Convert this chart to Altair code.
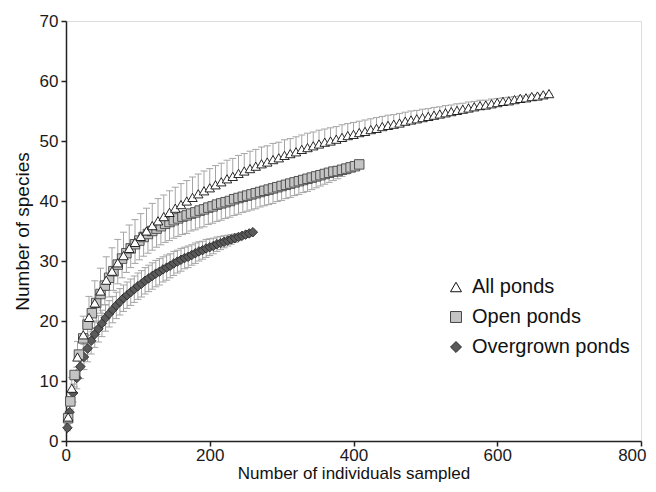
import altair as alt
import pandas as pd

series_names = ["All ponds", "Open ponds", "Overgrown ponds"]

all_x = [3, 8, 16, 24, 32, 40, 48, 56, 64, 72, 80, 88, 96, 104, 112, 120, 128, 136, 144, 152,
         160, 168, 176, 184, 192, 200, 208, 216, 224, 232, 240, 248, 256, 264, 272, 280, 288, 296,
         304, 312, 320, 328, 336, 344, 352, 360, 368, 376, 384, 392, 400, 408, 416, 424, 432, 440,
         448, 456, 464, 472, 480, 488, 496, 504, 512, 520, 528, 536, 544, 552, 560, 568, 576, 584,
         592, 600, 608, 616, 624, 632, 640, 648, 656, 664, 672]
all_y = [4.0, 8.8, 14.0, 17.7, 20.6, 23.0, 25.0, 26.8, 28.3, 29.7, 30.9, 32.1, 33.1, 34.1, 35.0,
         35.9, 36.7, 37.4, 38.1, 38.8, 39.4, 40.0, 40.6, 41.2, 41.7, 42.2, 42.7, 43.2, 43.7, 44.1,
         44.6, 45.0, 45.4, 45.8, 46.2, 46.5, 46.9, 47.2, 47.6, 47.9, 48.2, 48.6, 48.9, 49.2, 49.5,
         49.8, 50.0, 50.3, 50.6, 50.9, 51.1, 51.4, 51.6, 51.9, 52.1, 52.4, 52.6, 52.8, 53.0, 53.3,
         53.5, 53.7, 53.9, 54.1, 54.3, 54.5, 54.7, 54.9, 55.1, 55.3, 55.5, 55.7, 55.9, 56.0, 56.2,
         56.4, 56.6, 56.7, 56.9, 57.1, 57.2, 57.4, 57.5, 57.7, 57.9]
all_err = [1.0, 1.8, 2.6, 3.1, 3.5, 3.7, 3.8, 3.9, 3.9, 3.9, 3.9, 3.9, 3.8, 3.8, 3.8, 3.7, 3.7,
           3.6, 3.6, 3.5, 3.5, 3.4, 3.4, 3.3, 3.3, 3.2, 3.2, 3.1, 3.1, 3.0, 3.0, 2.9, 2.9, 2.8,
           2.8, 2.7, 2.7, 2.6, 2.6, 2.5, 2.5, 2.4, 2.4, 2.3, 2.3, 2.2, 2.2, 2.1, 2.1, 2.0, 2.0,
           1.9, 1.9, 1.8, 1.8, 1.7, 1.7, 1.6, 1.6, 1.5, 1.5, 1.4, 1.4, 1.3, 1.3, 1.2, 1.2, 1.1,
           1.1, 1.0, 1.0, 0.9, 0.9, 0.8, 0.8, 0.7, 0.6, 0.6, 0.5, 0.4, 0.3, 0.3, 0.2, 0.1, 0.0]

open_x = [3, 6, 12, 18, 24, 30, 36, 42, 48, 54, 60, 66, 72, 78, 84, 90, 96, 102, 108, 114, 120,
          126, 132, 138, 144, 150, 156, 162, 168, 174, 180, 186, 192, 198, 204, 210, 216, 222,
          228, 234, 240, 246, 252, 258, 264, 270, 276, 282, 288, 294, 300, 306, 312, 318, 324,
          330, 336, 342, 348, 354, 360, 366, 372, 378, 384, 390, 396, 402, 408]
open_y = [3.8, 6.6, 11.0, 14.4, 17.1, 19.4, 21.3, 23.0, 24.5, 25.9, 27.2, 28.3, 29.4, 30.4, 31.3,
          32.1, 32.8, 33.4, 34.0, 34.5, 35.0, 35.4, 35.8, 36.2, 36.5, 36.8, 37.1, 37.4, 37.6,
          37.9, 38.1, 38.4, 38.6, 38.9, 39.1, 39.4, 39.6, 39.8, 40.0, 40.3, 40.5, 40.7, 40.9,
          41.1, 41.3, 41.5, 41.7, 41.9, 42.1, 42.3, 42.5, 42.7, 42.9, 43.1, 43.3, 43.5, 43.7,
          43.9, 44.1, 44.3, 44.5, 44.7, 44.9, 45.0, 45.2, 45.4, 45.6, 45.8, 46.1]
open_err = [0.8, 1.3, 2.0, 2.5, 2.8, 3.0, 3.1, 3.2, 3.2, 3.2, 3.2, 3.2, 3.2, 3.2, 3.2, 3.2, 3.2,
            3.2, 3.2, 3.2, 3.2, 3.1, 3.1, 3.1, 3.1, 3.0, 3.0, 3.0, 3.0, 2.9, 2.9, 2.9, 2.9, 2.8,
            2.8, 2.8, 2.8, 2.7, 2.7, 2.7, 2.7, 2.6, 2.6, 2.6, 2.6, 2.5, 2.5, 2.5, 2.5, 2.4, 2.4,
            2.3, 2.3, 2.2, 2.2, 2.1, 2.1, 2.0, 1.9, 1.8, 1.7, 1.6, 1.5, 1.3, 1.1, 0.9, 0.7, 0.4,
            0.0]

over_x = [2, 5, 10, 15, 20, 25, 30, 35, 40, 45, 50, 55, 60, 65, 70, 75, 80, 85, 90, 95, 100,
          105, 110, 115, 120, 125, 130, 135, 140, 145, 150, 155, 160, 165, 170, 175, 180, 185,
          190, 195, 200, 205, 210, 215, 220, 225, 230, 235, 240, 245, 250, 255, 260]
over_y = [2.2, 4.8, 8.0, 10.5, 12.4, 14.0, 15.4, 16.7, 17.8, 18.7, 19.6, 20.5, 21.2, 21.9, 22.6,
          23.2, 23.8, 24.3, 24.8, 25.3, 25.8, 26.2, 26.7, 27.1, 27.5, 27.9, 28.2, 28.6, 28.9,
          29.2, 29.6, 29.9, 30.2, 30.5, 30.7, 31.0, 31.3, 31.6, 31.8, 32.1, 32.3, 32.5, 32.8,
          33.0, 33.2, 33.4, 33.6, 33.8, 34.0, 34.2, 34.4, 34.6, 34.8]
over_err = [0.5, 1.0, 1.5, 1.8, 2.0, 2.1, 2.2, 2.2, 2.2, 2.2, 2.2, 2.2, 2.2, 2.2, 2.2, 2.2, 2.2,
            2.2, 2.2, 2.2, 2.2, 2.2, 2.2, 2.2, 2.2, 2.2, 2.2, 2.1, 2.1, 2.0, 2.0, 1.9, 1.9, 1.8,
            1.8, 1.7, 1.7, 1.6, 1.5, 1.5, 1.4, 1.3, 1.2, 1.1, 1.0, 0.9, 0.8, 0.7, 0.6, 0.4, 0.3,
            0.1, 0.0]

FONT = "Liberation Sans"

d_all = pd.DataFrame({"x": all_x, "y": all_y, "err": all_err})
d_all["series"] = series_names[0]
d_all["lo"] = d_all["y"]
d_all["hi"] = d_all["y"] + d_all["err"]

d_open = pd.DataFrame({"x": open_x, "y": open_y, "err": open_err})
d_open["series"] = series_names[1]
d_open["lo"] = d_open["y"] - d_open["err"]
d_open["hi"] = d_open["y"]

d_over = pd.DataFrame({"x": over_x, "y": over_y, "err": over_err})
d_over["series"] = series_names[2]
d_over["lo"] = d_over["y"] - d_over["err"]
d_over["hi"] = d_over["y"] + d_over["err"]

bars = pd.concat([d_over, d_open, d_all], ignore_index=True)
caps = pd.concat([
    d_all[["x", "hi"]].rename(columns={"hi": "cap"}),
    d_open[["x", "lo"]].rename(columns={"lo": "cap"}),
    d_over[["x", "lo"]].rename(columns={"lo": "cap"}),
    d_over[["x", "hi"]].rename(columns={"hi": "cap"}),
], ignore_index=True)
points = pd.concat([d_over, d_open, d_all], ignore_index=True)
points["order"] = range(len(points))

xscale = alt.Scale(domain=[0, 800], nice=False)
yscale = alt.Scale(domain=[0, 70], nice=False)

xaxis = alt.Axis(values=[0, 200, 400, 600, 800], title="Number of individuals sampled",
                 grid=False, domainColor="#222", domainWidth=1.5, tickColor="#222",
                 tickWidth=1.5, tickSize=5, labelFont=FONT, labelFontSize=17,
                 labelColor="#1a1a1a", titleFont=FONT, titleFontSize=17,
                 titleFontWeight="normal", titleColor="#111", titlePadding=2,
                 labelPadding=1, labelFlush=True, labelFlushOffset=5)
yaxis = alt.Axis(values=[0, 10, 20, 30, 40, 50, 60, 70], title="Number of species",
                 grid=False, domainColor="#222", domainWidth=1.5, tickColor="#222",
                 tickWidth=1.5, tickSize=5, labelFont=FONT, labelFontSize=17,
                 labelColor="#1a1a1a", titleFont=FONT, titleFontSize=19,
                 titleFontWeight="normal", titleColor="#111", titlePadding=7,
                 labelPadding=3, labelFlush=False)

rules = alt.Chart(bars).mark_rule(color="#a4a4a4", strokeWidth=1).encode(
    x=alt.X("x:Q", scale=xscale, axis=xaxis),
    y=alt.Y("lo:Q", scale=yscale, axis=yaxis),
    y2="hi:Q",
)
cap_marks = alt.Chart(caps).mark_tick(color="#a4a4a4", orient="horizontal", size=7,
                                      thickness=1, opacity=1).encode(
    x=alt.X("x:Q", scale=xscale),
    y=alt.Y("cap:Q", scale=yscale),
)

legend = alt.Legend(title=None, orient="none", legendX=380, legendY=256,
                    labelFont=FONT, labelFontSize=20, labelColor="#111",
                    symbolStrokeWidth=1, symbolSize=120, rowPadding=10, labelOffset=6)

marks = alt.Chart(points).mark_point(filled=True, opacity=1, strokeWidth=0.9, size=90).encode(
    x=alt.X("x:Q", scale=xscale),
    y=alt.Y("y:Q", scale=yscale),
    shape=alt.Shape("series:N", scale=alt.Scale(domain=series_names,
                    range=["triangle-up", "square", "diamond"]), legend=legend),
    fill=alt.Fill("series:N", scale=alt.Scale(domain=series_names,
                  range=["#ffffff", "#c4c4c4", "#5a5a5a"]), legend=legend),
    stroke=alt.Stroke("series:N", scale=alt.Scale(domain=series_names,
                      range=["#111111", "#444444", "#2a2a2a"]), legend=legend),
    order=alt.Order("order:Q"),
)

chart = alt.layer(rules, cap_marks, marks).properties(
    width=575, height=420,
    autosize=alt.AutoSizeParams(type="none"),
    padding={"left": 58, "top": 13, "right": 7, "bottom": 43},
).configure_view(stroke=None).configure(background="white")

chart.save("out.html", embed_options={"renderer": "svg", "actions": False})
